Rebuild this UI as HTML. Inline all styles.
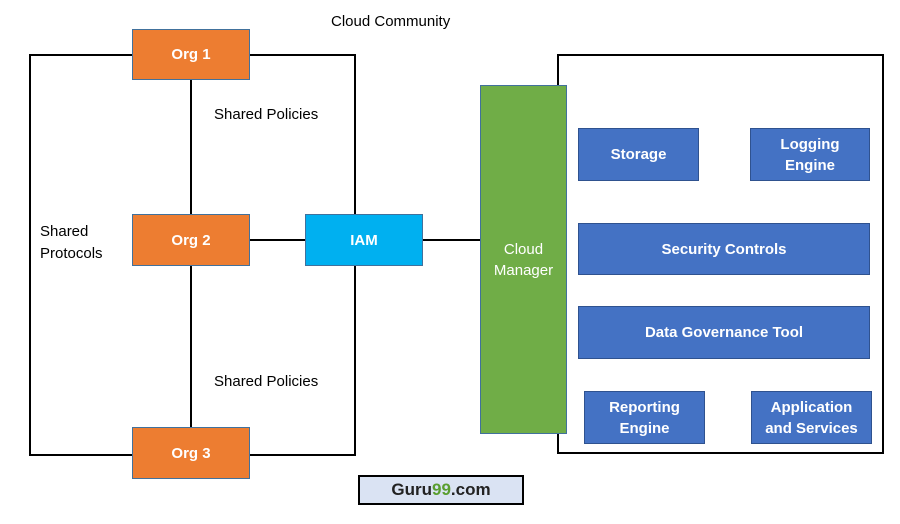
<!DOCTYPE html>
<html><head><style>
body{margin:0;width:900px;height:524px;background:#fff;position:relative;overflow:hidden;font-family:"Liberation Sans",sans-serif}
div{position:absolute;box-sizing:border-box}
.box{border:2px solid #000}
.org{background:#ED7D31;border:1px solid #41719C;color:#fff;font-weight:bold;font-size:15px;display:flex;align-items:center;justify-content:center}
.blue{background:#4472C4;border:1px solid #2F528F;color:#fff;font-weight:bold;font-size:15px;display:flex;align-items:center;justify-content:center;text-align:center;line-height:21px}
.t{font-size:15px;color:#000;line-height:22px}
.l{background:#000}
</style></head><body>
<div class="t" style="left:331px;top:11px">Cloud Community</div>
<div class="box" style="left:29px;top:54px;width:327px;height:402px"></div>
<div class="box" style="left:557px;top:54px;width:327px;height:400px"></div>
<div class="l" style="left:190px;top:80px;width:2px;height:350px"></div>
<div class="l" style="left:250px;top:239px;width:56px;height:2px"></div>
<div class="l" style="left:423px;top:239px;width:58px;height:2px"></div>
<div class="org" style="left:132px;top:29px;width:118px;height:51px">Org 1</div>
<div class="org" style="left:132px;top:214px;width:118px;height:52px">Org 2</div>
<div class="org" style="left:132px;top:427px;width:118px;height:52px">Org 3</div>
<div class="t" style="left:214px;top:104px">Shared Policies</div>
<div class="t" style="left:214px;top:371px">Shared Policies</div>
<div class="t" style="left:40px;top:221px">Shared<br>Protocols</div>
<div style="left:305px;top:214px;width:118px;height:52px;background:#00B0F0;border:1px solid #41719C;color:#fff;font-weight:bold;font-size:15px;display:flex;align-items:center;justify-content:center">IAM</div>
<div style="left:480px;top:85px;width:87px;height:349px;background:#70AD47;border:1px solid #41719C;color:#fff;font-size:15px;display:flex;align-items:center;justify-content:center;text-align:center;line-height:21px">Cloud<br>Manager</div>
<div class="blue" style="left:578px;top:128px;width:121px;height:53px">Storage</div>
<div class="blue" style="left:750px;top:128px;width:120px;height:53px">Logging<br>Engine</div>
<div class="blue" style="left:578px;top:223px;width:292px;height:52px">Security Controls</div>
<div class="blue" style="left:578px;top:306px;width:292px;height:53px">Data Governance Tool</div>
<div class="blue" style="left:584px;top:391px;width:121px;height:53px">Reporting<br>Engine</div>
<div class="blue" style="left:751px;top:391px;width:121px;height:53px">Application<br>and Services</div>
<div style="left:358px;top:475px;width:166px;height:30px;background:#DAE3F3;border:2px solid #000;font-size:17px;font-weight:bold;color:#222;display:flex;align-items:center;justify-content:center">Guru<span style="color:#5A9E2F">99</span>.com</div>
</body></html>
